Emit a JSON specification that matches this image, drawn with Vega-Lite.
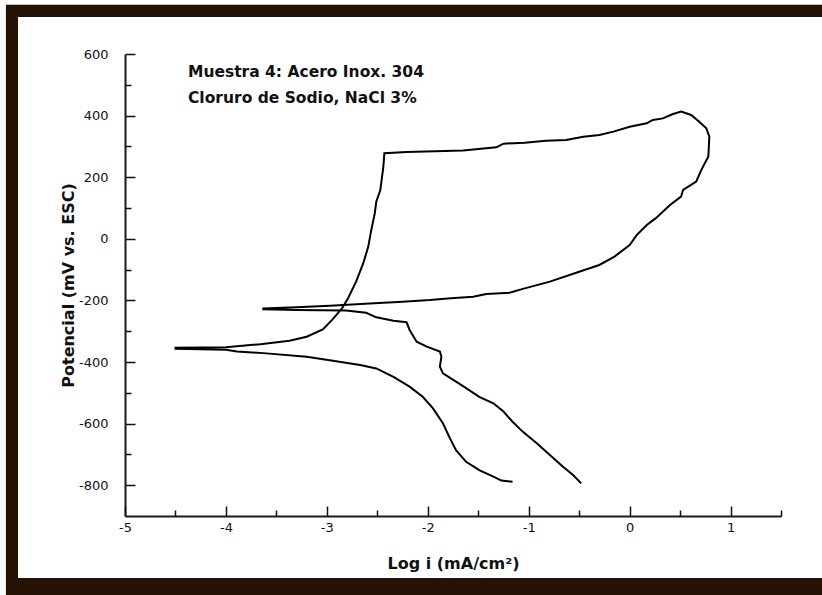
{
  "$schema": "https://vega.github.io/schema/vega-lite/v6.json",
  "width": 656,
  "height": 462,
  "autosize": "none",
  "padding": {"left": 125, "top": 54, "right": 41, "bottom": 79},
  "background": "white",
  "config": {
    "view": {"stroke": null},
    "axis": {"grid": false, "domainColor": "#1a1a1a", "domainWidth": 2, "tickColor": "#111", "tickWidth": 1.5, "labelFont": "DejaVu Sans", "labelFontSize": 13, "labelColor": "#111", "titleFont": "DejaVu Sans", "titleFontWeight": "bold", "titleFontSize": 16, "titleColor": "#111", "labelFlush": false, "labelOverlap": false, "labelBound": false}
  },
  "resolve": {"axis": {"x": "independent", "y": "independent"}},
  "datasets": {
    "curva": [
      {"i": 1, "logi": -1.16, "E": -789}, {"i": 2, "logi": -1.27, "E": -785}, {"i": 3, "logi": -1.35, "E": -772},
      {"i": 4, "logi": -1.49, "E": -751}, {"i": 5, "logi": -1.62, "E": -724}, {"i": 6, "logi": -1.72, "E": -686},
      {"i": 7, "logi": -1.78, "E": -648}, {"i": 8, "logi": -1.85, "E": -599}, {"i": 9, "logi": -1.95, "E": -550},
      {"i": 10, "logi": -2.05, "E": -513}, {"i": 11, "logi": -2.18, "E": -480}, {"i": 12, "logi": -2.34, "E": -448},
      {"i": 13, "logi": -2.51, "E": -421}, {"i": 14, "logi": -2.67, "E": -410}, {"i": 15, "logi": -2.94, "E": -396},
      {"i": 16, "logi": -3.2, "E": -383}, {"i": 17, "logi": -3.6, "E": -372}, {"i": 18, "logi": -3.89, "E": -366},
      {"i": 19, "logi": -4.0, "E": -360}, {"i": 20, "logi": -4.5, "E": -357}, {"i": 21, "logi": -4.5, "E": -354},
      {"i": 22, "logi": -4.0, "E": -352}, {"i": 23, "logi": -3.66, "E": -342}, {"i": 24, "logi": -3.37, "E": -331},
      {"i": 25, "logi": -3.2, "E": -318}, {"i": 26, "logi": -3.04, "E": -294}, {"i": 27, "logi": -2.95, "E": -264},
      {"i": 28, "logi": -2.85, "E": -226}, {"i": 29, "logi": -2.79, "E": -193}, {"i": 30, "logi": -2.71, "E": -139},
      {"i": 31, "logi": -2.64, "E": -80}, {"i": 32, "logi": -2.59, "E": -26}, {"i": 33, "logi": -2.56, "E": 28},
      {"i": 34, "logi": -2.525, "E": 83}, {"i": 35, "logi": -2.51, "E": 121}, {"i": 36, "logi": -2.47, "E": 158},
      {"i": 37, "logi": -2.44, "E": 234}, {"i": 38, "logi": -2.43, "E": 278}, {"i": 39, "logi": -2.21, "E": 282},
      {"i": 40, "logi": -1.65, "E": 287}, {"i": 41, "logi": -1.32, "E": 297}, {"i": 42, "logi": -1.25, "E": 309},
      {"i": 43, "logi": -1.04, "E": 312}, {"i": 44, "logi": -0.83, "E": 318}, {"i": 45, "logi": -0.63, "E": 321},
      {"i": 46, "logi": -0.46, "E": 331}, {"i": 47, "logi": -0.3, "E": 337}, {"i": 48, "logi": -0.16, "E": 348},
      {"i": 49, "logi": 0.0, "E": 364}, {"i": 50, "logi": 0.17, "E": 375}, {"i": 51, "logi": 0.23, "E": 386},
      {"i": 52, "logi": 0.33, "E": 391}, {"i": 53, "logi": 0.43, "E": 405}, {"i": 54, "logi": 0.51, "E": 413},
      {"i": 55, "logi": 0.61, "E": 402}, {"i": 56, "logi": 0.69, "E": 380}, {"i": 57, "logi": 0.76, "E": 359},
      {"i": 58, "logi": 0.79, "E": 332}, {"i": 59, "logi": 0.78, "E": 267}, {"i": 60, "logi": 0.71, "E": 223},
      {"i": 61, "logi": 0.66, "E": 186}, {"i": 62, "logi": 0.53, "E": 159}, {"i": 63, "logi": 0.51, "E": 137},
      {"i": 64, "logi": 0.4, "E": 110}, {"i": 65, "logi": 0.26, "E": 67}, {"i": 66, "logi": 0.17, "E": 45},
      {"i": 67, "logi": 0.07, "E": 12}, {"i": 68, "logi": 0.0, "E": -20}, {"i": 69, "logi": -0.15, "E": -58},
      {"i": 70, "logi": -0.3, "E": -85}, {"i": 71, "logi": -0.5, "E": -107}, {"i": 72, "logi": -0.79, "E": -139},
      {"i": 73, "logi": -1.04, "E": -161}, {"i": 74, "logi": -1.19, "E": -175}, {"i": 75, "logi": -1.42, "E": -179},
      {"i": 76, "logi": -1.55, "E": -188}, {"i": 77, "logi": -1.77, "E": -193}, {"i": 78, "logi": -1.98, "E": -199},
      {"i": 79, "logi": -2.25, "E": -204}, {"i": 80, "logi": -2.53, "E": -209}, {"i": 81, "logi": -2.97, "E": -217},
      {"i": 82, "logi": -3.3, "E": -222}, {"i": 83, "logi": -3.63, "E": -226}, {"i": 84, "logi": -3.63, "E": -229},
      {"i": 85, "logi": -3.3, "E": -231}, {"i": 86, "logi": -2.81, "E": -233}, {"i": 87, "logi": -2.61, "E": -240},
      {"i": 88, "logi": -2.51, "E": -255}, {"i": 89, "logi": -2.34, "E": -266}, {"i": 90, "logi": -2.21, "E": -271},
      {"i": 91, "logi": -2.18, "E": -296}, {"i": 92, "logi": -2.11, "E": -334}, {"i": 93, "logi": -2.01, "E": -350},
      {"i": 94, "logi": -1.88, "E": -366}, {"i": 95, "logi": -1.865, "E": -383}, {"i": 96, "logi": -1.88, "E": -415},
      {"i": 97, "logi": -1.85, "E": -437}, {"i": 98, "logi": -1.72, "E": -464}, {"i": 99, "logi": -1.62, "E": -485},
      {"i": 100, "logi": -1.49, "E": -513}, {"i": 101, "logi": -1.35, "E": -534}, {"i": 102, "logi": -1.25, "E": -561},
      {"i": 103, "logi": -1.16, "E": -594}, {"i": 104, "logi": -1.06, "E": -626}, {"i": 105, "logi": -0.92, "E": -664},
      {"i": 106, "logi": -0.79, "E": -702}, {"i": 107, "logi": -0.66, "E": -740}, {"i": 108, "logi": -0.56, "E": -767},
      {"i": 109, "logi": -0.48, "E": -794}
    ]
  },
  "layer": [
    {
      "data": {"values": [{}]},
      "mark": {"type": "rect", "fill": "#241305", "clip": false},
      "encoding": {
        "x": {"datum": -6.18, "type": "quantitative", "scale": {"domain": [-5, 1.5], "nice": false, "zero": false}, "axis": null},
        "x2": {"datum": 2.3},
        "y": {"datum": 760, "type": "quantitative", "scale": {"domain": [-900, 600], "nice": false, "zero": false}, "axis": null},
        "y2": {"datum": -1300}
      }
    },
    {
      "data": {"values": [{}]},
      "mark": {"type": "rect", "fill": "white", "clip": false},
      "encoding": {
        "x": {"datum": -6.06, "type": "quantitative", "scale": {"domain": [-5, 1.5], "nice": false, "zero": false}, "axis": null},
        "x2": {"datum": 2.3},
        "y": {"datum": 720, "type": "quantitative", "scale": {"domain": [-900, 600], "nice": false, "zero": false}, "axis": null},
        "y2": {"datum": -1101}
      }
    },
    {
      "data": {"name": "curva"},
      "mark": {"type": "line", "color": "#000", "strokeWidth": 2},
      "encoding": {
        "x": {
          "field": "logi", "type": "quantitative",
          "scale": {"domain": [-5, 1.5], "nice": false, "zero": false},
          "axis": {
            "orient": "bottom", "zindex": 2,
            "title": "Log i (mA/cm²)",
            "values": [-5, -4, -3, -2, -1, 0, 1],
            "labelExpr": "'' + datum.value",
            "tickSize": -10,
            "labelPadding": 15,
            "titleX": 328, "titleY": 47, "titleBaseline": "middle", "titleAlign": "center"
          }
        },
        "y": {
          "field": "E", "type": "quantitative",
          "scale": {"domain": [-900, 600], "nice": false, "zero": false},
          "axis": {
            "orient": "left", "zindex": 2,
            "title": "Potencial (mV vs. ESC)",
            "values": [-800, -600, -400, -200, 0, 200, 400, 600],
            "labelExpr": "'' + datum.value",
            "tickSize": -10,
            "labelPadding": 27,
            "titleX": -57, "titleY": 231, "titleBaseline": "middle", "titleAlign": "center", "titleAngle": -90
          }
        },
        "order": {"field": "i", "type": "quantitative"}
      }
    },
    {
      "data": {"name": "curva"},
      "mark": {"type": "line", "opacity": 0},
      "encoding": {
        "x": {
          "field": "logi", "type": "quantitative",
          "scale": {"domain": [-5, 1.5], "nice": false, "zero": false},
          "axis": {"orient": "bottom", "zindex": 2, "offset": 0, "title": null, "labels": false, "domain": false, "values": [-4.5, -3.5, -2.5, -1.5, -0.5, 0.5, 1.5], "tickSize": -6}
        },
        "y": {
          "field": "E", "type": "quantitative",
          "scale": {"domain": [-900, 600], "nice": false, "zero": false},
          "axis": {"orient": "left", "zindex": 2, "offset": 0, "title": null, "labels": false, "domain": false, "values": [-700, -500, -300, -100, 100, 300, 500], "tickSize": -6}
        },
        "order": {"field": "i", "type": "quantitative"}
      }
    },
    {
      "data": {"values": [{}]},
      "mark": {"type": "text", "align": "left", "baseline": "alphabetic", "font": "DejaVu Sans", "fontWeight": "bold", "fontSize": 15.5, "lineHeight": 25.5, "color": "#111"},
      "encoding": {
        "x": {"datum": -4.376, "type": "quantitative", "scale": {"domain": [-5, 1.5], "nice": false, "zero": false}, "axis": null},
        "y": {"datum": 524, "type": "quantitative", "scale": {"domain": [-900, 600], "nice": false, "zero": false}, "axis": null},
        "text": {"value": ["Muestra 4: Acero Inox. 304", "Cloruro de Sodio, NaCl 3%"]}
      }
    }
  ]
}
